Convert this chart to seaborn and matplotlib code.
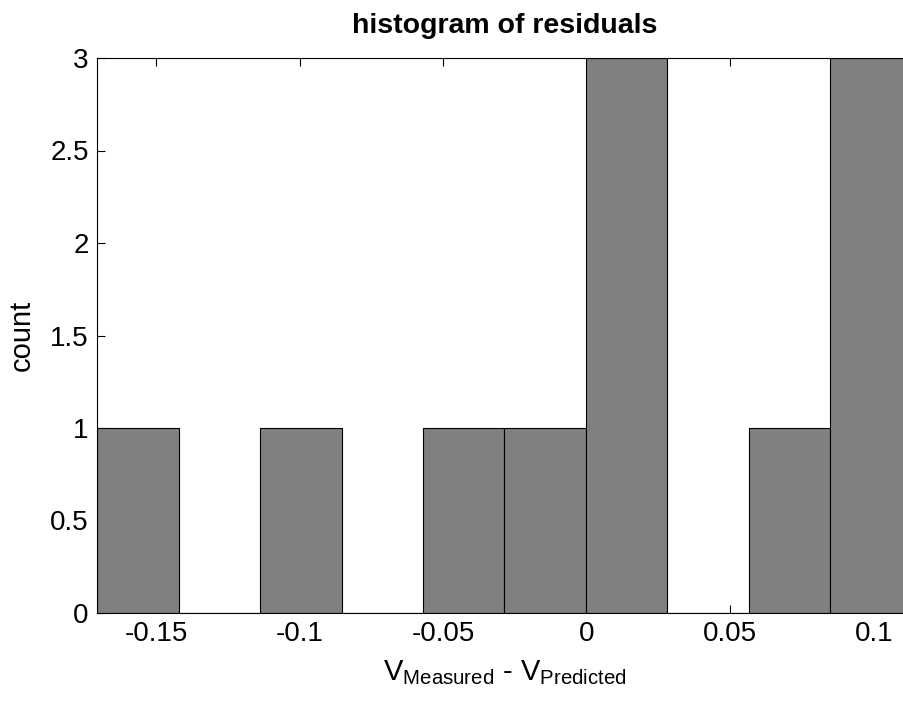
import matplotlib
matplotlib.use("Agg")
import matplotlib.pyplot as plt
import numpy as np
import pandas as pd
import seaborn as sns

# Residuals (measured minus predicted voltage)
residuals = [-0.1707, -0.098, -0.041, -0.015, 0.004, 0.013, 0.022,
             0.071, 0.091, 0.104, 0.1133]
n_bins = 10

x_ticks = [-0.15, -0.1, -0.05, 0, 0.05, 0.1]
x_tick_labels = ["-0.15", "-0.1", "-0.05", "0", "0.05", "0.1"]
y_ticks = [0, 0.5, 1, 1.5, 2, 2.5, 3]
y_tick_labels = ["0", "0.5", "1", "1.5", "2", "2.5", "3"]

sns.set_theme(style="white")
plt.rcParams["font.family"] = ["Liberation Sans", "DejaVu Sans"]
plt.rcParams["axes.unicode_minus"] = False
plt.rcParams["mathtext.fontset"] = "custom"
plt.rcParams["mathtext.rm"] = "Liberation Sans"
plt.rcParams["mathtext.it"] = "Liberation Sans:italic"
plt.rcParams["mathtext.bf"] = "Liberation Sans:bold"
plt.rcParams["text.color"] = "black"
plt.rcParams["axes.labelcolor"] = "black"

fig = plt.figure(figsize=(9.04, 7.09), dpi=100)
ax = fig.add_axes([97 / 904, 96 / 709, 815 / 904, 555 / 709])

df = pd.DataFrame({"residual": residuals})
sns.histplot(data=df, x="residual", bins=n_bins, stat="count",
             color="#808080", alpha=1, edgecolor="black", linewidth=0.8, ax=ax)

ax.set_xlim(min(residuals), max(residuals))
ax.set_ylim(0, 3)
ax.set_xticks(x_ticks, x_tick_labels)
ax.set_yticks(y_ticks, y_tick_labels)
ax.set_axisbelow(True)
ax.tick_params(direction="in", length=6, width=0.8, colors="black",
               labelsize=20, top=True, bottom=True, left=True, right=True,
               labeltop=False, labelright=False)
ax.tick_params(axis="x", pad=6)
ax.tick_params(axis="y", pad=6)
for s in ax.spines.values():
    s.set_visible(True)
    s.set_color("black")
    s.set_linewidth(0.8)

ax.set_title("histogram of residuals", fontsize=20.5, fontweight="bold",
             color="black", pad=18)
ax.set_xlabel(r"V$_{\mathrm{Measured}}$ - V$_{\mathrm{Predicted}}$",
              fontsize=21, labelpad=8)
ax.set_ylabel("count", fontsize=21, labelpad=10)

fig.savefig("out.png", dpi=100)
